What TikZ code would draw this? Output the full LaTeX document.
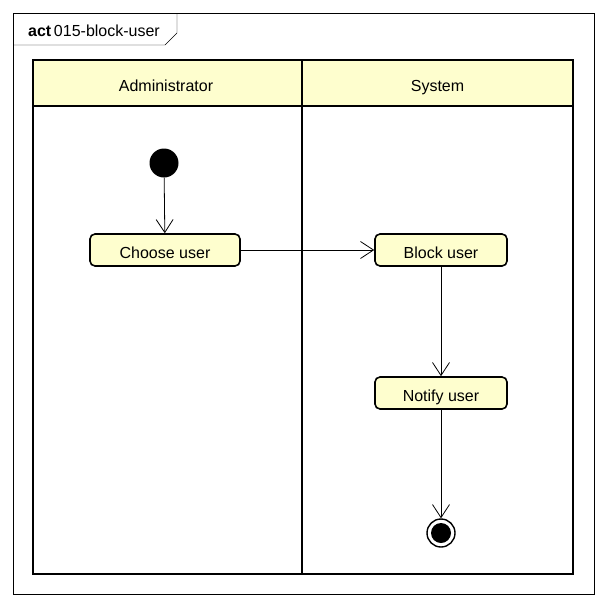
\documentclass[tikz,border=0pt]{standalone}
\usepackage{fontspec}
\setmainfont{Liberation Sans}
\usetikzlibrary{arrows.meta}
\definecolor{umlfill}{HTML}{FEFECE}

\begin{document}
\begin{tikzpicture}[x=1pt, y=-1pt, font=\fontsize{16}{19}\selectfont,
  lane/.style = {line width=1.8pt},
  action/.style = {shape=rectangle, rounded corners=5pt, draw, line width=1.6pt, fill=umlfill,
    minimum height=32pt, inner sep=0pt, text height=17pt, text depth=0pt},
  start/.style = {shape=circle, fill=black, minimum size=29pt, inner sep=0pt},
  stop/.style = {shape=circle, draw, line width=1.4pt, minimum size=28pt, inner sep=0pt,
    path picture={\fill (path picture bounding box.center) circle (10pt);}},
  flow/.style = {-{Straight Barb[length=13pt, width=17pt]}, line width=0.8pt}]
  \useasboundingbox (0,0) rectangle (606,608);
  % frame and tab
  \draw (13,13) rectangle (594,594);
  \draw (13,45) -- (165,45) -- (177,33) -- (177,13);
  \node[anchor=base west, inner sep=0pt] (title) at (28,36) {\textbf{act}\,015-block-user};
  % swimlanes
  \draw[lane, fill=umlfill] (33,60) rectangle (573,106);
  \draw[lane] (33,106) rectangle (573,574);
  \draw[lane] (302,60) -- (302,574);
  \node[anchor=base] (admin) at (166,91) {Administrator};
  \node[anchor=base] (system) at (437.5,91) {System};
  % activity
  \node[start] (start) at (164,163) {};
  \node[action, minimum width=150pt] (choose) at (165,250) {Choose user};
  \node[action, minimum width=132pt] (block) at (441,250) {Block user};
  \node[action, minimum width=132pt] (notify) at (441,393) {Notify user};
  \node[stop] (stop) at (441,533) {};
  \draw[flow] (start) -- (choose);
  \draw[flow] (choose) -- (block);
  \draw[flow] (block) -- (notify);
  \draw[flow] (notify) -- (stop);
\end{tikzpicture}
\end{document}
